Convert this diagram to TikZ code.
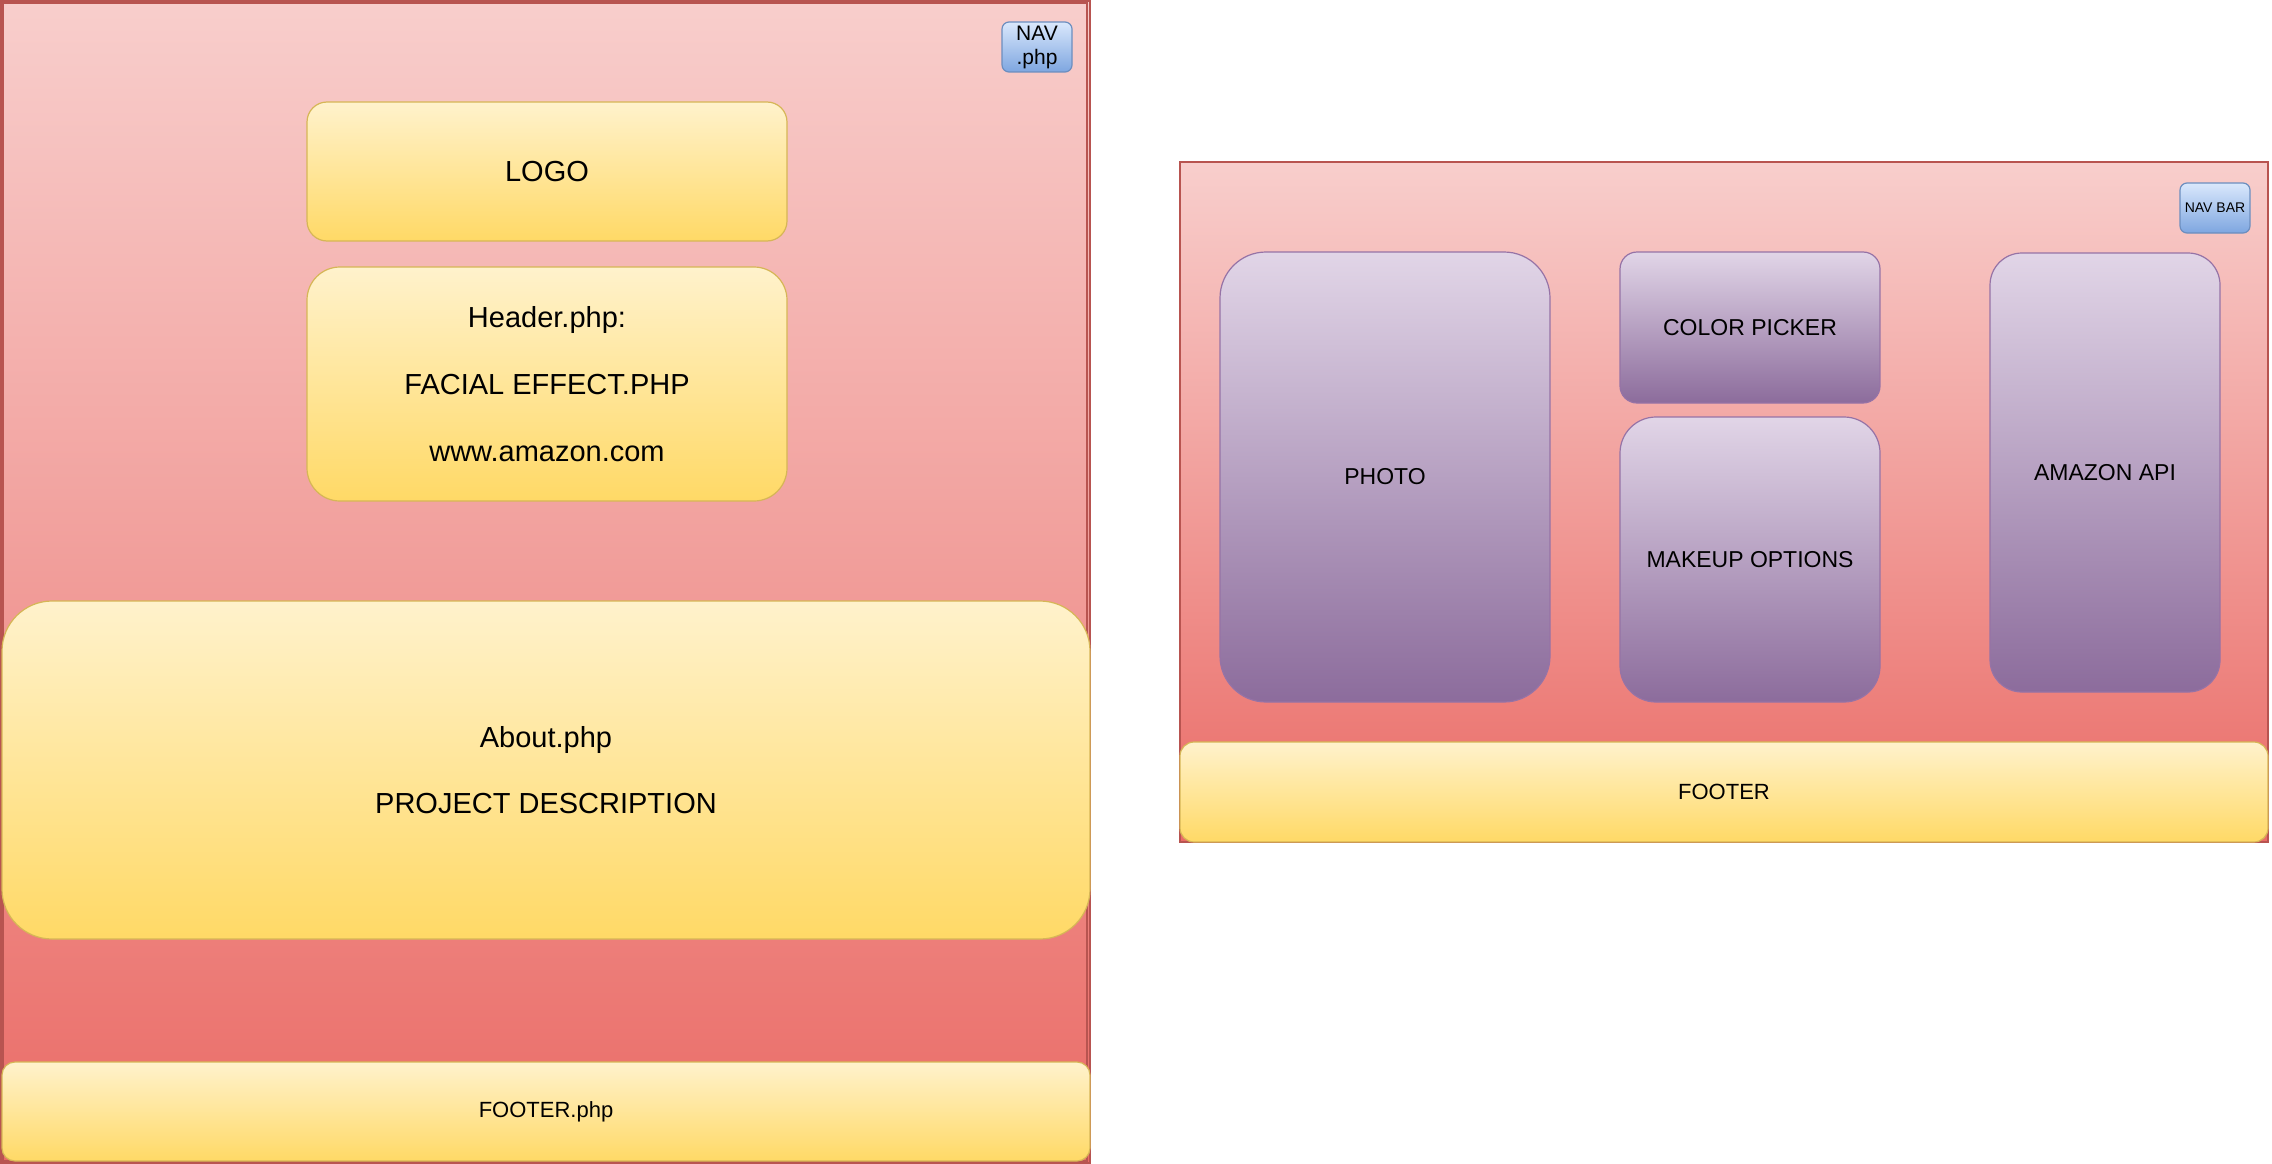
\documentclass[tikz,border=0pt]{standalone}
\usepackage{fontspec}
\setmainfont{Liberation Sans}
\definecolor{pinkT}{HTML}{F8CECC}
\definecolor{pinkB}{HTML}{EA6B66}
\definecolor{pinkS}{HTML}{B85450}
\definecolor{yelT}{HTML}{FFF2CC}
\definecolor{yelB}{HTML}{FFD966}
\definecolor{yelS}{HTML}{D6B656}
\definecolor{purT}{HTML}{E1D5E7}
\definecolor{purB}{HTML}{8C6C9C}
\definecolor{purS}{HTML}{9673A6}
\definecolor{bluT}{HTML}{DAE8FC}
\definecolor{bluB}{HTML}{7EA6E0}
\definecolor{bluS}{HTML}{6C8EBF}
\tikzset{
  base/.style={rectangle, inner sep=0pt, outer sep=0pt, align=center, line width=1.2pt, text=black},
  ybox/.style={base, draw=yelS, top color=yelT, bottom color=yelB},
  pbox/.style={base, draw=purS, top color=purT, bottom color=purB},
  bbox/.style={base, draw=bluS, top color=bluT, bottom color=bluB},
  pagebox/.style={base, draw=pinkS, top color=pinkT, bottom color=pinkB, line width=2pt},
}
\newcommand{\fs}[2]{\fontsize{#1}{#2}\selectfont}
\begin{document}
\begin{tikzpicture}[x=1pt,y=-1pt]
\useasboundingbox[fill=white] (0,0) rectangle (2272,1164);
% left page
\node[pagebox, minimum width=1089pt, minimum height=1162pt] (leftpage) at (545.5,582) {};
\draw[pinkS, line width=1.2pt] (3,3) rectangle (1087,1161);
\node[bbox, rounded corners=7pt, minimum width=70pt, minimum height=50pt, font=\fs{21}{24}] (nav) at (1037,47) {NAV\\.php};
\node[ybox, rounded corners=20pt, minimum width=480pt, minimum height=139pt, font=\fs{29}{34}] (logo) at (547,171.5) {LOGO};
\node[ybox, rounded corners=33pt, minimum width=480pt, minimum height=234pt, font=\fs{29}{33.5}] (header) at (547,384) {Header.php:\\[33.5pt]FACIAL EFFECT.PHP\\[33.5pt]www.amazon.com};
\node[ybox, rounded corners=50pt, minimum width=1088pt, minimum height=338pt, font=\fs{29}{33}] (about) at (546,770) {About.php\\[33pt]PROJECT DESCRIPTION};
\node[ybox, rounded corners=13pt, minimum width=1088pt, minimum height=99pt, font=\fs{22}{26}] (footerphp) at (546,1111.5) {FOOTER.php};
% right page
\node[pagebox, minimum width=1088pt, minimum height=680pt] (rightpage) at (1724,502) {};
\node[bbox, rounded corners=7pt, minimum width=70pt, minimum height=50pt, font=\fs{14}{16}] (navbar) at (2215,208) {NAV BAR};
\node[pbox, rounded corners=46pt, minimum width=330pt, minimum height=450pt, font=\fs{23}{27}] (photo) at (1385,477) {PHOTO};
\node[pbox, rounded corners=17pt, minimum width=260pt, minimum height=151pt, font=\fs{23}{27}] (color) at (1750,327.5) {COLOR PICKER};
\node[pbox, rounded corners=36pt, minimum width=260pt, minimum height=285pt, font=\fs{23}{27}] (makeup) at (1750,559.5) {MAKEUP OPTIONS};
\node[pbox, rounded corners=32pt, minimum width=230pt, minimum height=439pt, font=\fs{23}{27}] (amazon) at (2105,472.5) {AMAZON API};
\node[ybox, rounded corners=14pt, minimum width=1088pt, minimum height=100pt, font=\fs{22}{26}] (footer) at (1724,792) {FOOTER};
\end{tikzpicture}
\end{document}
